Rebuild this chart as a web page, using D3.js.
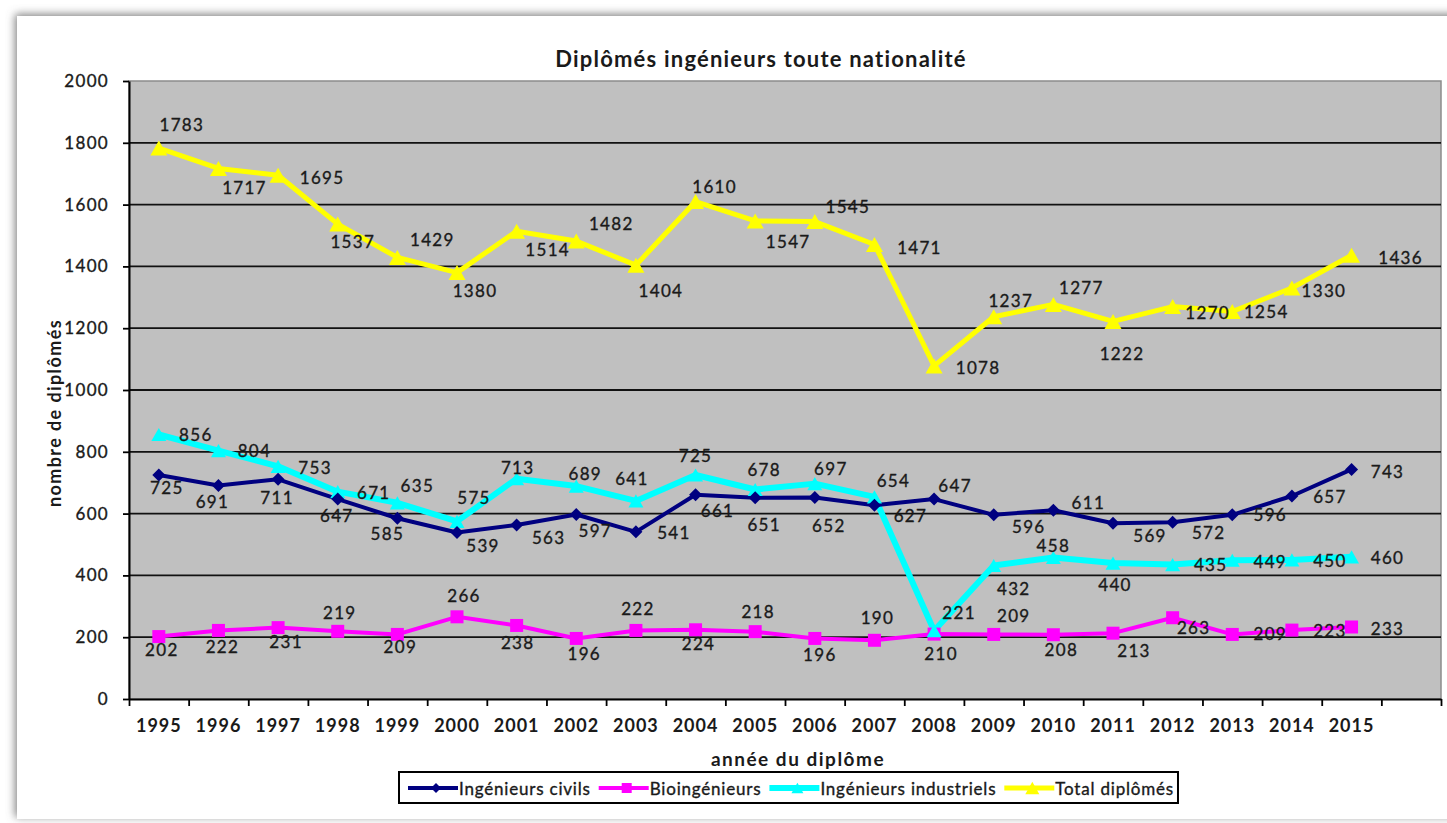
<!DOCTYPE html>
<html>
<head>
<meta charset="utf-8">
<script src="https://cdn.jsdelivr.net/npm/d3@7"></script>
<style>
	html, body { margin: 0; padding: 0; background: #fff; }
	svg { display: block; }
	text { font-family: Lato, "Open Sans", sans-serif; fill: #1a1a1a; }
	.thick { stroke: #1a1a1a; stroke-width: 0.35px; }
</style>
</head>
<body>
<svg id="chart" width="1447" height="823"></svg>
<script>
;(function() {
	"use strict";

	// values
	var years = ["1995", "1996", "1997", "1998", "1999", "2000", "2001", "2002", "2003", "2004",
		"2005", "2006", "2007", "2008", "2009", "2010", "2011", "2012", "2013", "2014", "2015"];
	var civils = [725, 691, 711, 647, 585, 539, 563, 597, 541, 661, 651, 652, 627, 647, 596, 611, 569, 572, 596, 657, 743];
	var bio = [202, 222, 231, 219, 209, 266, 238, 196, 222, 224, 218, 196, 190, 210, 209, 208, 213, 263, 209, 223, 233];
	var industriels = [856, 804, 753, 671, 635, 575, 713, 689, 641, 725, 678, 697, 654, 221, 432, 458, 440, 435, 449, 450, 460];
	var total = [1783, 1717, 1695, 1537, 1429, 1380, 1514, 1482, 1404, 1610, 1547, 1545, 1471, 1078, 1237, 1277, 1222, 1270, 1254, 1330, 1436];
	var yTicks = [0, 200, 400, 600, 800, 1000, 1200, 1400, 1600, 1800, 2000];

	// labels were dragged around by hand in the sheet: [dx, dy] from the marker
	var civilsNudge = [[8,13],[-6,16],[-1,18],[-1,16],[-10,15],[26,13],[32,12],[19,16],[38,1],[22,16],
		[9,27],[14,28],[36,10],[21,-14],[35,12],[35,-8],[37,12],[36,10],[38,0],[38,1],[36,2]];
	var bioNudge = [[3,13],[4,16],[8,14],[2,-19],[3,12],[7,-21],[1,17],[8,15],[2,-22],[3,14],
		[3,-20],[5,16],[3,-23],[7,19],[20,-19],[8,15],[21,17],[21,10],[38,-1],[38,0],[36,1]];
	var industrielsNudge = [[37,0],[36,0],[37,1],[36,1],[20,-17],[17,-24],[1,-11],[9,-13],[-4,-22],[0,-19],
		[9,-20],[16,-15],[19,-16],[25,-18],[20,23],[0,-12],[2,21],[38,0],[38,1],[38,1],[36,1]];
	var totalNudge = [[23,-24],[26,19],[44,2],[15,17],[35,-18],[18,18],[31,18],[35,-18],[25,25],[19,-15],
		[33,21],[33,-15],[45,3],[44,2],[17,-16],[28,-17],[9,32],[35,6],[34,0],[32,2],[49,2]];

	var series = [
		{ name: "Ingénieurs civils", values: civils, nudge: civilsNudge, color: "#000080", width: 4, marker: "diamond", size: 13, z: 2 },
		{ name: "Bioingénieurs", values: bio, nudge: bioNudge, color: "#ff00ff", width: 4, marker: "square", size: 13, z: 0 },
		{ name: "Ingénieurs industriels", values: industriels, nudge: industrielsNudge, color: "#00ffff", width: 6, marker: "triangle", size: 15, z: 1 },
		{ name: "Total diplômés", values: total, nudge: totalNudge, color: "#ffff00", width: 5, marker: "triangle", size: 17, z: 3 }
	];

	var plot = { left: 129, right: 1441, top: 81, bottom: 699 };

	var svg = d3.select("#chart");

	// card with the soft shadow on top/left
	var defs = svg.append("defs");
	var shadow = defs.append("filter").attr("id", "card-shadow")
		.attr("x", "-5%").attr("y", "-5%").attr("width", "110%").attr("height", "110%");
	shadow.append("feDropShadow")
		.attr("dx", -2).attr("dy", -2).attr("stdDeviation", 4)
		.attr("flood-color", "#777").attr("flood-opacity", 0.9);

	svg.append("rect")
		.attr("x", 17).attr("y", 16)
		.attr("width", 1470).attr("height", 803)
		.attr("fill", "#fff")
		.attr("filter", "url(#card-shadow)");

	// the 22nd slot is empty in the original sheet
	var categories = years.concat([""]);

	var x = d3.scaleBand()
		.domain(categories)
		.range([plot.left, plot.right]);

	var xEdges = d3.scaleLinear()
		.domain([0, categories.length])
		.range([plot.left, plot.right]);

	var y = d3.scaleLinear()
		.domain([0, 2000])
		.range([plot.bottom, plot.top]);

	function cx(i) { return x(categories[i]) + x.bandwidth() / 2; }

	// plot area
	svg.append("rect")
		.attr("x", plot.left).attr("y", plot.top)
		.attr("width", plot.right - plot.left).attr("height", plot.bottom - plot.top)
		.attr("fill", "#c0c0c0")
		.attr("stroke", "#8c8c8c")
		.attr("stroke-width", 1.5);

	svg.append("g").attr("class", "grid")
		.selectAll("line")
		.data(yTicks.filter(function(t) { return t > 0 && t < 2000; }))
		.enter().append("line")
		.attr("x1", plot.left).attr("x2", plot.right)
		.attr("y1", function(d) { return y(d); })
		.attr("y2", function(d) { return y(d); })
		.attr("stroke", "#111")
		.attr("stroke-width", 1.8);

	// y axis
	var yAxis = svg.append("g")
		.attr("transform", "translate(" + plot.left + ",0)")
		.call(d3.axisLeft(y).tickValues(yTicks).tickFormat(d3.format("d"))
			.tickSize(6).tickSizeOuter(0).tickPadding(14));
	yAxis.select(".domain").attr("stroke", "#000").attr("stroke-width", 2);
	yAxis.selectAll(".tick line").attr("stroke", "#000").attr("stroke-width", 1.8);
	yAxis.selectAll(".tick text")
		.attr("class", "thick")
		.attr("font-size", 17)
		.attr("letter-spacing", 1.3)
		.attr("fill", "#1a1a1a")
		.attr("font-family", "Lato, sans-serif");

	// x axis: tick marks between categories, labels in the middle
	var xTickMarks = svg.append("g")
		.attr("transform", "translate(0," + plot.bottom + ")")
		.call(d3.axisBottom(xEdges).tickValues(d3.range(categories.length + 1))
			.tickSize(7).tickSizeOuter(0).tickFormat(""));
	xTickMarks.select(".domain").attr("stroke", "#000").attr("stroke-width", 2);
	xTickMarks.selectAll(".tick line").attr("stroke", "#000").attr("stroke-width", 1.8);

	var xLabels = svg.append("g")
		.attr("transform", "translate(0," + plot.bottom + ")")
		.call(d3.axisBottom(x).tickSize(0).tickPadding(20));
	xLabels.select(".domain").remove();
	xLabels.selectAll(".tick text")
		.attr("font-size", 18)
		.attr("font-weight", "bold")
		.attr("letter-spacing", 1)
		.attr("fill", "#1a1a1a")
		.attr("font-family", "Lato, sans-serif");

	// lines (drawn first), markers on top
	var line = d3.line()
		.x(function(d, i) { return cx(i); })
		.y(function(d) { return y(d); });

	function markerPath(type, s) {
		var h = s / 2;
		if (type === "diamond")
			return "M0," + (-h) + "L" + h + ",0L0," + h + "L" + (-h) + ",0Z";
		if (type === "square")
			return "M" + (-h) + "," + (-h) + "h" + s + "v" + s + "h" + (-s) + "Z";
		var th = s * 0.88;
		return "M0," + (-th / 2) + "L" + h + "," + (th / 2) + "L" + (-h) + "," + (th / 2) + "Z";
	}

	var ordered = series.slice().sort(function(a, b) { return a.z - b.z; });

	ordered.forEach(function(s) {
		svg.append("path")
			.datum(s.values)
			.attr("d", line)
			.attr("fill", "none")
			.attr("stroke", s.color)
			.attr("stroke-width", s.width)
			.attr("stroke-linejoin", "round");
	});

	ordered.forEach(function(s) {
		svg.append("g").selectAll("path")
			.data(s.values)
			.enter().append("path")
			.attr("transform", function(d, i) { return "translate(" + cx(i) + "," + y(d) + ")"; })
			.attr("d", markerPath(s.marker, s.size))
			.attr("fill", s.color);
	});

	// value labels
	series.forEach(function(s) {
		svg.append("g").selectAll("text")
			.data(s.values)
			.enter().append("text")
			.attr("class", "thick")
			.attr("x", function(d, i) { return cx(i) + s.nudge[i][0]; })
			.attr("y", function(d, i) { return y(d) + s.nudge[i][1]; })
			.attr("text-anchor", "middle")
			.attr("dominant-baseline", "central")
			.attr("font-size", 17)
			.attr("letter-spacing", 1.3)
			.text(function(d) { return d; });
	});

	// titles
	svg.append("text")
		.attr("x", 761).attr("y", 58)
		.attr("text-anchor", "middle")
		.attr("dominant-baseline", "central")
		.attr("font-size", 22)
		.attr("font-weight", "bold")
		.attr("letter-spacing", 1.2)
		.text("Diplômés ingénieurs toute nationalité");

	svg.append("text")
		.attr("transform", "translate(54,413) rotate(-90)")
		.attr("text-anchor", "middle")
		.attr("dominant-baseline", "central")
		.attr("font-size", 18)
		.attr("font-weight", "bold")
		.attr("letter-spacing", 1.4)
		.text("nombre de diplômés");

	svg.append("text")
		.attr("x", 798).attr("y", 758)
		.attr("text-anchor", "middle")
		.attr("dominant-baseline", "central")
		.attr("font-size", 19)
		.attr("font-weight", "bold")
		.attr("letter-spacing", 1.5)
		.text("année du diplôme");

	// legend
	var legend = svg.append("g");
	var legendBox = legend.append("rect")
		.attr("x", 399).attr("y", 772)
		.attr("height", 31)
		.attr("fill", "#fff")
		.attr("stroke", "#000")
		.attr("stroke-width", 2);

	var lx = 408, ly = 788;
	series.forEach(function(s) {
		legend.append("line")
			.attr("x1", lx).attr("x2", lx + 50)
			.attr("y1", ly).attr("y2", ly)
			.attr("stroke", s.color)
			.attr("stroke-width", s.width);
		legend.append("path")
			.attr("transform", "translate(" + (lx + 28) + "," + ly + ")")
			.attr("d", markerPath(s.marker, s.size - 3))
			.attr("fill", s.color);
		var t = legend.append("text")
			.attr("class", "thick")
			.attr("x", lx + 51).attr("y", ly)
			.attr("dominant-baseline", "central")
			.attr("font-size", 17)
			.attr("letter-spacing", 0.8)
			.text(s.name);
		lx = lx + 51 + t.node().getComputedTextLength() + 8;
	});
	legendBox.attr("width", lx - 399 - 4);

})();
</script>
</body>
</html>
